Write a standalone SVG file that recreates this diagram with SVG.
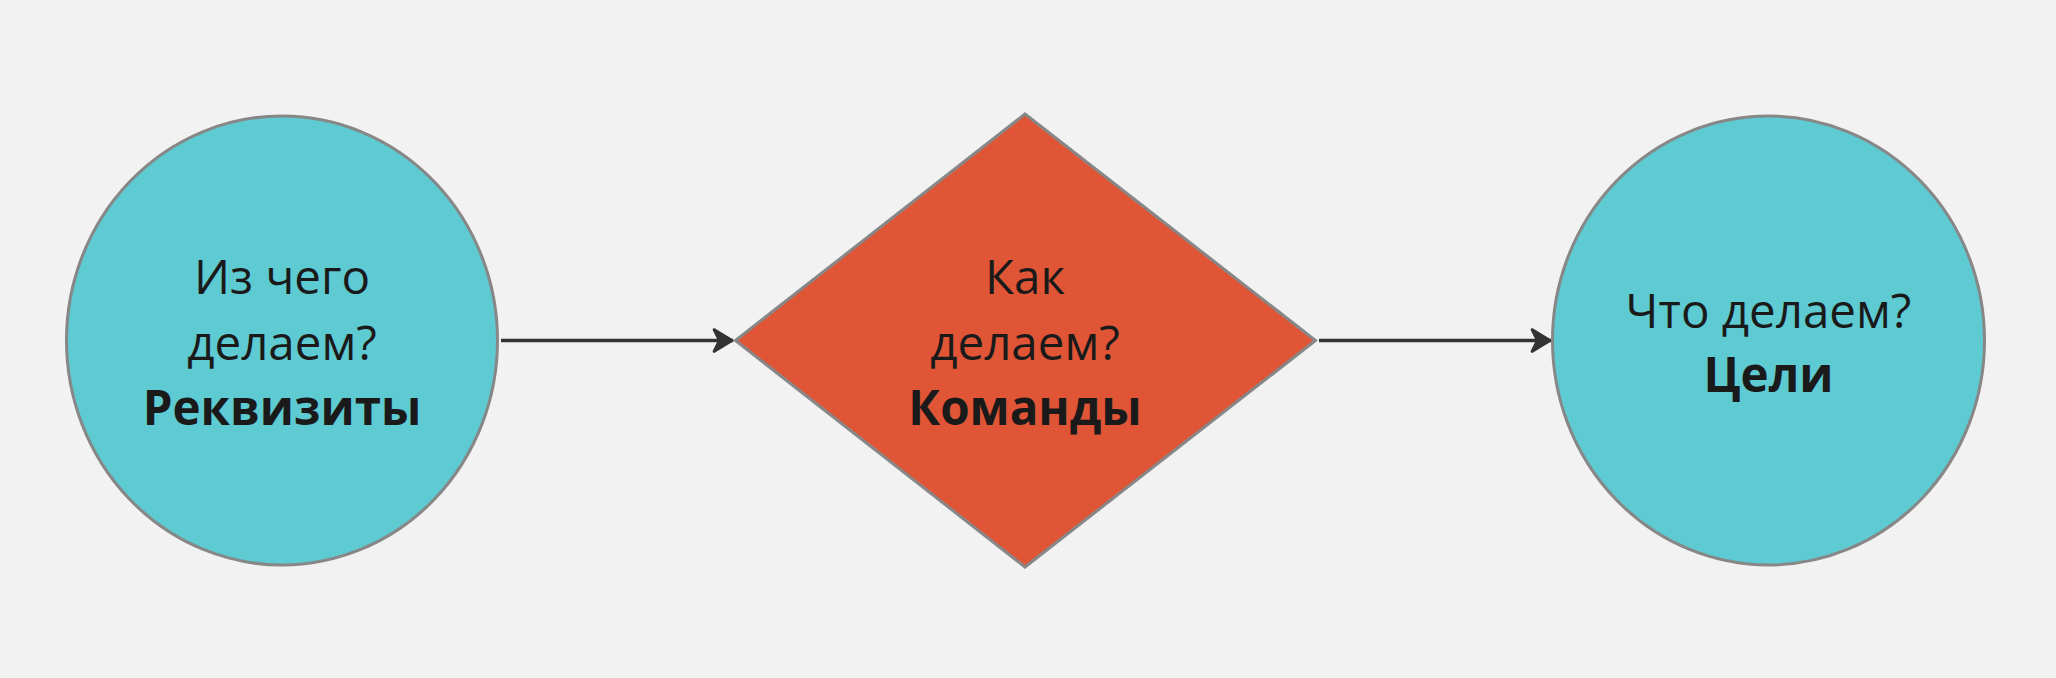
<svg xmlns="http://www.w3.org/2000/svg" width="2056" height="678" viewBox="0 0 2056 678">
<style>
.node{stroke:#878787;stroke-width:3}
.teal{fill:#5ecad2}
.red{fill:#e05536}
.t{font-family:"Open Sans","Noto Sans","Liberation Sans",sans-serif;font-size:47.5px;font-weight:normal;fill:#1a1a1a;text-anchor:middle}
.b{font-weight:bold}
.edge{stroke:#333333;stroke-width:3.5;fill:none}
</style>
<defs>
<marker id="arr" markerUnits="userSpaceOnUse" markerWidth="26" markerHeight="28" refX="22" refY="13" orient="auto">
<path d="M3,3 Q2,1 4,2 L22,13 L4,24 Q2,25 3,23 L8,13 Z" fill="#333333" stroke="#333333" stroke-width="2" stroke-linejoin="round"/>
</marker>
</defs>
<rect width="2056" height="678" fill="#f2f2f2"/>
<g id="connectors">
<line class="edge" x1="501" y1="340.5" x2="733" y2="340.5" marker-end="url(#arr)"/>
<line class="edge" x1="1319" y1="340.5" x2="1551" y2="340.5" marker-end="url(#arr)"/>
</g>
<g id="node-rekvizity">
<ellipse class="node teal" cx="282" cy="340.5" rx="215.5" ry="224.5"/>
<text class="t" x="282" y="294">Из чего</text>
<text class="t" x="282" y="360">делаем?</text>
<text class="t b" x="282" y="425">Реквизиты</text>
</g>
<g id="node-komandy">
<polygon class="node red" points="1025,114 1315.5,340.5 1025,567 735.5,340.5"/>
<text class="t" x="1025" y="294">Как</text>
<text class="t" x="1025" y="360">делаем?</text>
<text class="t b" x="1025" y="425">Команды</text>
</g>
<g id="node-tseli">
<ellipse class="node teal" cx="1768.5" cy="340.5" rx="216" ry="224.5"/>
<text class="t" x="1768.5" y="328">Что делаем?</text>
<text class="t b" x="1768.5" y="392">Цели</text>
</g>
</svg>
